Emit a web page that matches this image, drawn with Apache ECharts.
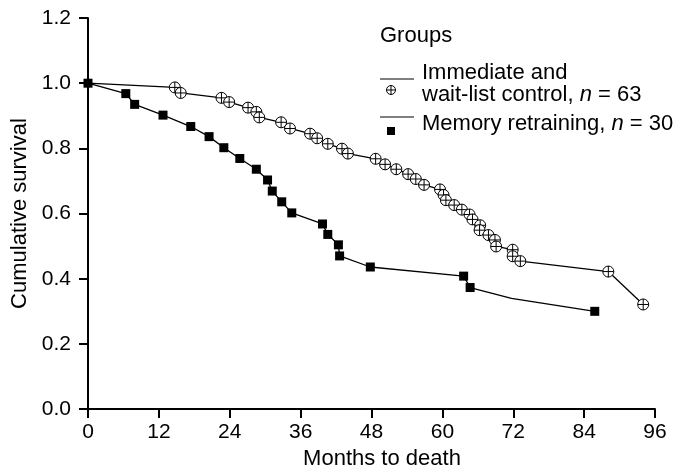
<!DOCTYPE html>
<html>
<head>
<meta charset="utf-8">
<script src="https://cdn.jsdelivr.net/npm/echarts@6/dist/echarts.min.js"></script>
<style>
  html, body { margin: 0; padding: 0; background: #fff; }
  #chart { width: 674px; height: 475px; }
</style>
</head>
<body>
<div id="chart"></div>
<script>
// data
const xTicks = [0, 12, 24, 36, 48, 60, 72, 84, 96]
const yTicks = [0, 0.2, 0.4, 0.6, 0.8, 1.0, 1.2]

// Immediate and wait-list control (circles with plus)
const monthsControl = [0, 14.7, 15.7, 22.6, 23.9, 27.1, 28.5, 29.0, 32.7, 34.2, 37.6, 38.8, 40.6, 43.0, 44.0,
  48.7, 50.3, 52.2, 54.2, 55.5, 56.9, 59.6, 60.2, 60.6, 62.0, 63.3, 64.6, 65.1, 66.4, 66.3, 67.8, 68.9, 69.1,
  71.9, 71.9, 73.2, 88.1, 94.0]
const survivalControl = [1.0, 0.987, 0.970, 0.955, 0.942, 0.925, 0.912, 0.895, 0.880, 0.861, 0.845, 0.831, 0.814,
  0.799, 0.784, 0.768, 0.751, 0.736, 0.721, 0.706, 0.688, 0.674, 0.657, 0.641, 0.626, 0.612, 0.597, 0.582, 0.564,
  0.549, 0.534, 0.519, 0.499, 0.489, 0.469, 0.454, 0.422, 0.321]

// Memory retraining (filled squares); the point at 71.7 is a bend without marker
const monthsMemory = [0, 6.4, 7.9, 12.7, 17.4, 20.5, 23.0, 25.7, 28.5, 30.4, 31.2, 32.8, 34.5, 39.7, 40.6, 42.4,
  42.6, 47.8, 63.6, 64.7, 71.7, 85.8]
const survivalMemory = [1.0, 0.968, 0.935, 0.902, 0.867, 0.836, 0.802, 0.769, 0.736, 0.703, 0.669, 0.636, 0.602,
  0.568, 0.536, 0.504, 0.470, 0.436, 0.408, 0.373, 0.340, 0.300]
const memoryNoMarker = [20]

const FONT = "'Liberation Sans', Arial, sans-serif"
const circlePlus = 'path://M0,-10A10,10 0 1,1 0,10A10,10 0 1,1 0,-10ZM-10,0L10,0M0,-10L0,10'

const controlData = monthsControl.map((m, i) => {
  const item = { value: [m, survivalControl[i]] }
  if (i === 0) item.symbol = 'none'
  return item
})
const memoryData = monthsMemory.map((m, i) => {
  const item = { value: [m, survivalMemory[i]] }
  if (memoryNoMarker.includes(i)) item.symbol = 'none'
  return item
})

const chart = echarts.init(document.getElementById('chart'))

const option = {
  backgroundColor: '#fff',
  animation: false,
  grid: { left: 88, right: 19, top: 18, bottom: 57 },
  xAxis: {
    type: 'value',
    min: xTicks[0],
    max: xTicks[xTicks.length - 1],
    interval: 12,
    name: 'Months to death',
    nameLocation: 'middle',
    nameGap: 38,
    nameTextStyle: { color: '#000', fontSize: 22, fontFamily: FONT, padding: [0, 0, 0, 21] },
    axisLine: { lineStyle: { color: '#000', width: 2 } },
    axisTick: { inside: false, length: 9, lineStyle: { color: '#000', width: 2 } },
    axisLabel: { color: '#000', fontSize: 21, fontFamily: FONT, margin: 13 },
    splitLine: { show: false }
  },
  yAxis: {
    type: 'value',
    min: yTicks[0],
    max: yTicks[yTicks.length - 1],
    interval: 0.2,
    name: 'Cumulative survival',
    nameLocation: 'middle',
    nameGap: 56,
    nameTextStyle: { color: '#000', fontSize: 22, fontFamily: FONT },
    axisLine: { show: true, lineStyle: { color: '#000', width: 2 } },
    axisTick: { show: true, length: 9, lineStyle: { color: '#000', width: 2 } },
    axisLabel: {
      color: '#000', fontSize: 21, fontFamily: FONT, margin: 17,
      formatter: v => v.toFixed(1)
    },
    splitLine: { show: false }
  },
  series: [
    {
      name: 'Immediate and wait-list control',
      type: 'line',
      data: controlData,
      symbol: circlePlus,
      symbolSize: 11,
      showAllSymbol: true,
      lineStyle: { color: '#000', width: 1.3 },
      itemStyle: { color: '#fff', borderColor: '#000', borderWidth: 1 },
      z: 2
    },
    {
      name: 'Memory retraining',
      type: 'line',
      data: memoryData,
      symbol: 'rect',
      symbolSize: 9,
      showAllSymbol: true,
      lineStyle: { color: '#000', width: 1.3 },
      itemStyle: { color: '#000' },
      z: 3
    }
  ],
  graphic: [
    {
      type: 'text', left: 380, top: 25,
      style: { text: 'Groups', fill: '#000', font: '22px ' + FONT }
    },
    {
      type: 'line', shape: { x1: 380, y1: 79, x2: 414, y2: 79 },
      style: { stroke: '#000', lineWidth: 1 }
    },
    {
      type: 'group', x: 391, y: 90,
      children: [
        { type: 'circle', shape: { cx: 0, cy: 0, r: 4.5 }, style: { fill: '#fff', stroke: '#000', lineWidth: 1 } },
        { type: 'line', shape: { x1: -4.5, y1: 0, x2: 4.5, y2: 0 }, style: { stroke: '#000', lineWidth: 1 } },
        { type: 'line', shape: { x1: 0, y1: -4.5, x2: 0, y2: 4.5 }, style: { stroke: '#000', lineWidth: 1 } }
      ]
    },
    {
      type: 'text', left: 422, top: 62,
      style: { text: 'Immediate and', fill: '#000', font: '22px ' + FONT }
    },
    {
      type: 'text', left: 422, top: 84,
      style: {
        text: 'wait-list control, {i|n} = 63', fill: '#000', font: '22px ' + FONT,
        rich: { i: { fontStyle: 'italic', fontSize: 22, fontFamily: FONT, fill: '#000' } }
      }
    },
    {
      type: 'line', shape: { x1: 380, y1: 117, x2: 414, y2: 117 },
      style: { stroke: '#000', lineWidth: 1 }
    },
    {
      type: 'rect', shape: { x: 387, y: 127, width: 8, height: 8 },
      style: { fill: '#000' }
    },
    {
      type: 'text', left: 422, top: 113,
      style: {
        text: 'Memory retraining, {i|n} = 30', fill: '#000', font: '22px ' + FONT,
        rich: { i: { fontStyle: 'italic', fontSize: 22, fontFamily: FONT, fill: '#000' } }
      }
    }
  ]
}

chart.setOption(option)
</script>
</body>
</html>
